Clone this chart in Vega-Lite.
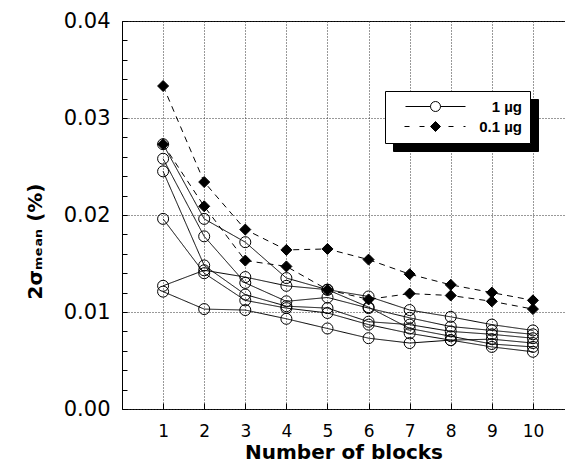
{
  "$schema": "https://vega.github.io/schema/vega-lite/v6.json",
  "width": 443,
  "height": 388,
  "autosize": "none",
  "padding": {"left": 122, "top": 21, "right": 0, "bottom": 59},
  "config": {
    "font": "DejaVu Sans",
    "view": {"stroke": "black", "strokeWidth": 1},
    "axis": {"labelFont": "DejaVu Sans", "titleFont": "DejaVu Sans", "labelColor": "black", "titleColor": "black", "tickColor": "black", "domain": false, "labelOverlap": false, "gridDash": [1, 2], "gridColor": "#333", "gridWidth": 1}
  },
  "datasets": {
    "main": [
      {"series": "A", "dose": "1 µg", "block": 1, "value": 0.0273}, {"series": "A", "dose": "1 µg", "block": 2, "value": 0.0196}, {"series": "A", "dose": "1 µg", "block": 3, "value": 0.0172}, {"series": "A", "dose": "1 µg", "block": 4, "value": 0.0135}, {"series": "A", "dose": "1 µg", "block": 5, "value": 0.0123}, {"series": "A", "dose": "1 µg", "block": 6, "value": 0.0116}, {"series": "A", "dose": "1 µg", "block": 7, "value": 0.0102}, {"series": "A", "dose": "1 µg", "block": 8, "value": 0.0095}, {"series": "A", "dose": "1 µg", "block": 9, "value": 0.0087}, {"series": "A", "dose": "1 µg", "block": 10, "value": 0.0081},
      {"series": "B", "dose": "1 µg", "block": 1, "value": 0.0258}, {"series": "B", "dose": "1 µg", "block": 2, "value": 0.0178}, {"series": "B", "dose": "1 µg", "block": 3, "value": 0.0130}, {"series": "B", "dose": "1 µg", "block": 4, "value": 0.0111}, {"series": "B", "dose": "1 µg", "block": 5, "value": 0.0115}, {"series": "B", "dose": "1 µg", "block": 6, "value": 0.0104}, {"series": "B", "dose": "1 µg", "block": 7, "value": 0.0094}, {"series": "B", "dose": "1 µg", "block": 8, "value": 0.0085}, {"series": "B", "dose": "1 µg", "block": 9, "value": 0.0081}, {"series": "B", "dose": "1 µg", "block": 10, "value": 0.0077},
      {"series": "C", "dose": "1 µg", "block": 1, "value": 0.0245}, {"series": "C", "dose": "1 µg", "block": 2, "value": 0.0148}, {"series": "C", "dose": "1 µg", "block": 3, "value": 0.0118}, {"series": "C", "dose": "1 µg", "block": 4, "value": 0.0106}, {"series": "C", "dose": "1 µg", "block": 5, "value": 0.0104}, {"series": "C", "dose": "1 µg", "block": 6, "value": 0.0090}, {"series": "C", "dose": "1 µg", "block": 7, "value": 0.0087}, {"series": "C", "dose": "1 µg", "block": 8, "value": 0.0080}, {"series": "C", "dose": "1 µg", "block": 9, "value": 0.0077}, {"series": "C", "dose": "1 µg", "block": 10, "value": 0.0073},
      {"series": "D", "dose": "1 µg", "block": 1, "value": 0.0196}, {"series": "D", "dose": "1 µg", "block": 2, "value": 0.0140}, {"series": "D", "dose": "1 µg", "block": 3, "value": 0.0112}, {"series": "D", "dose": "1 µg", "block": 4, "value": 0.0104}, {"series": "D", "dose": "1 µg", "block": 5, "value": 0.0099}, {"series": "D", "dose": "1 µg", "block": 6, "value": 0.0087}, {"series": "D", "dose": "1 µg", "block": 7, "value": 0.0078}, {"series": "D", "dose": "1 µg", "block": 8, "value": 0.0071}, {"series": "D", "dose": "1 µg", "block": 9, "value": 0.0072}, {"series": "D", "dose": "1 µg", "block": 10, "value": 0.0068},
      {"series": "E", "dose": "1 µg", "block": 1, "value": 0.0127}, {"series": "E", "dose": "1 µg", "block": 2, "value": 0.0143}, {"series": "E", "dose": "1 µg", "block": 3, "value": 0.0136}, {"series": "E", "dose": "1 µg", "block": 4, "value": 0.0127}, {"series": "E", "dose": "1 µg", "block": 5, "value": 0.0123}, {"series": "E", "dose": "1 µg", "block": 6, "value": 0.0105}, {"series": "E", "dose": "1 µg", "block": 7, "value": 0.0083}, {"series": "E", "dose": "1 µg", "block": 8, "value": 0.0075}, {"series": "E", "dose": "1 µg", "block": 9, "value": 0.0067}, {"series": "E", "dose": "1 µg", "block": 10, "value": 0.0064},
      {"series": "F", "dose": "1 µg", "block": 1, "value": 0.0121}, {"series": "F", "dose": "1 µg", "block": 2, "value": 0.0103}, {"series": "F", "dose": "1 µg", "block": 3, "value": 0.0102}, {"series": "F", "dose": "1 µg", "block": 4, "value": 0.0093}, {"series": "F", "dose": "1 µg", "block": 5, "value": 0.0083}, {"series": "F", "dose": "1 µg", "block": 6, "value": 0.0073}, {"series": "F", "dose": "1 µg", "block": 7, "value": 0.0068}, {"series": "F", "dose": "1 µg", "block": 8, "value": 0.0071}, {"series": "F", "dose": "1 µg", "block": 9, "value": 0.0064}, {"series": "F", "dose": "1 µg", "block": 10, "value": 0.0059},
      {"series": "G", "dose": "0.1 µg", "block": 1, "value": 0.0333}, {"series": "G", "dose": "0.1 µg", "block": 2, "value": 0.0234}, {"series": "G", "dose": "0.1 µg", "block": 3, "value": 0.0185}, {"series": "G", "dose": "0.1 µg", "block": 4, "value": 0.0164}, {"series": "G", "dose": "0.1 µg", "block": 5, "value": 0.0165}, {"series": "G", "dose": "0.1 µg", "block": 6, "value": 0.0154}, {"series": "G", "dose": "0.1 µg", "block": 7, "value": 0.0139}, {"series": "G", "dose": "0.1 µg", "block": 8, "value": 0.0128}, {"series": "G", "dose": "0.1 µg", "block": 9, "value": 0.0120}, {"series": "G", "dose": "0.1 µg", "block": 10, "value": 0.0112},
      {"series": "H", "dose": "0.1 µg", "block": 1, "value": 0.0273}, {"series": "H", "dose": "0.1 µg", "block": 2, "value": 0.0209}, {"series": "H", "dose": "0.1 µg", "block": 3, "value": 0.0153}, {"series": "H", "dose": "0.1 µg", "block": 4, "value": 0.0147}, {"series": "H", "dose": "0.1 µg", "block": 5, "value": 0.0123}, {"series": "H", "dose": "0.1 µg", "block": 6, "value": 0.0113}, {"series": "H", "dose": "0.1 µg", "block": 7, "value": 0.0119}, {"series": "H", "dose": "0.1 µg", "block": 8, "value": 0.0117}, {"series": "H", "dose": "0.1 µg", "block": 9, "value": 0.0111}, {"series": "H", "dose": "0.1 µg", "block": 10, "value": 0.0103}
    ]
  },
  "layer": [
    {
      "data": {"name": "main"},
      "mark": {"type": "line", "color": "black", "strokeWidth": 1},
      "encoding": {
        "x": {"field": "block", "type": "quantitative", "scale": {"domain": [0, 10.78], "nice": false, "zero": false},
          "axis": {"values": [1, 2, 3, 4, 5, 6, 7, 8, 9, 10], "grid": true, "title": "Number of blocks", "titleFontSize": 20, "titleFontWeight": "bold", "labelFontSize": 17, "tickSize": -6, "labelPadding": 20, "titlePadding": 3}},
        "y": {"field": "value", "type": "quantitative", "scale": {"domain": [0, 0.04], "nice": false},
          "axis": {"values": [0, 0.01, 0.02, 0.03, 0.04], "format": ".2f", "grid": true, "labelFontSize": 21, "tickSize": -5, "labelPadding": 17,
            "title": "2σₘₑₐₙ (%)", "titleFontSize": 20, "titleFontWeight": "bold", "titleX": -77, "titleY": 220}},
        "detail": {"field": "series", "type": "nominal"},
        "strokeDash": {"field": "dose", "type": "nominal", "scale": {"domain": ["1 µg", "0.1 µg"], "range": [[1, 0], [6, 5]]}, "legend": null}
      }
    },
    {
      "data": {"name": "main"},
      "mark": {"type": "point", "stroke": "black", "strokeWidth": 1, "size": 121, "opacity": 1},
      "encoding": {
        "x": {"field": "block", "type": "quantitative"},
        "y": {"field": "value", "type": "quantitative",
          "axis": {"orient": "left", "values": [0, 0.002, 0.004, 0.006, 0.008, 0.01, 0.012, 0.014, 0.016, 0.018, 0.02, 0.022, 0.024, 0.026, 0.028, 0.03, 0.032, 0.034, 0.036, 0.038, 0.04], "labels": false, "grid": false, "title": null, "tickSize": -5}},
        "shape": {"field": "dose", "type": "nominal", "scale": {"domain": ["1 µg", "0.1 µg"], "range": ["circle", "diamond"]}, "legend": null},
        "fill": {"field": "dose", "type": "nominal", "scale": {"domain": ["1 µg", "0.1 µg"], "range": ["transparent", "black"]}, "legend": null}
      }
    },
    {
      "data": {"values": []},
      "mark": {"type": "point", "strokeWidth": 1, "opacity": 1},
      "encoding": {
        "shape": {"field": "dose", "type": "nominal", "scale": {"domain": ["1 µg", "0.1 µg"], "range": ["M-6,0H-1M1,0H6M1,0A1,1,0,1,1,-1,0A1,1,0,1,1,1,0Z", "M-6.2,0H-5.2M-3.2,0H-2.2M0,-1L1,0L0,1L-1,0ZM2.6,0H3.6M5.6,0H6"]},
          "legend": {"orient": "none", "legendX": 263, "legendY": 70, "title": null, "padding": 8, "symbolSize": 100, "symbolOffset": 35, "labelOffset": 79, "labelAlign": "right", "labelFont": "Liberation Sans", "labelFontSize": 15, "labelFontWeight": "bold", "labelColor": "black", "rowPadding": 4, "fillColor": "white", "strokeColor": "black", "symbolStrokeWidth": 1, "symbolStrokeColor": "black", "zindex": 2}},
        "fill": {"field": "dose", "type": "nominal", "scale": {"domain": ["1 µg", "0.1 µg"], "range": ["white", "black"]},
          "legend": {"orient": "none", "legendX": 263, "legendY": 70, "title": null, "padding": 8, "symbolSize": 100, "symbolOffset": 35, "labelOffset": 79, "labelAlign": "right", "labelFont": "Liberation Sans", "labelFontSize": 15, "labelFontWeight": "bold", "labelColor": "black", "rowPadding": 4, "fillColor": "white", "strokeColor": "black", "symbolStrokeWidth": 1, "symbolStrokeColor": "black", "zindex": 2}},
        "stroke": {"field": "dose", "type": "nominal", "scale": {"domain": ["1 µg", "0.1 µg"], "range": ["black", "black"]},
          "legend": {"orient": "none", "legendX": 263, "legendY": 70, "title": null, "padding": 8, "symbolSize": 100, "symbolOffset": 35, "labelOffset": 79, "labelAlign": "right", "labelFont": "Liberation Sans", "labelFontSize": 15, "labelFontWeight": "bold", "labelColor": "black", "rowPadding": 4, "fillColor": "white", "strokeColor": "black", "symbolStrokeWidth": 1, "symbolStrokeColor": "black", "zindex": 2}}
      }
    },
    {
      "data": {"values": []},
      "mark": {"type": "point", "stroke": "black", "fill": "black", "strokeWidth": 1, "opacity": 1},
      "encoding": {
        "shape": {"field": "dose", "type": "nominal", "scale": {"domain": ["1 µg", "0.1 µg"], "range": ["M-6,0H-1M1,0H6M1,0A1,1,0,1,1,-1,0A1,1,0,1,1,1,0Z", "M-6.2,0H-5.2M-3.2,0H-2.2M0,-1L1,0L0,1L-1,0ZM2.6,0H3.6M5.6,0H6"]},
          "legend": {"orient": "none", "legendX": 271, "legendY": 78, "title": null, "padding": 8, "symbolSize": 100, "symbolOffset": 89, "labelOffset": -92, "labelAlign": "left", "labelFont": "Liberation Sans", "labelFontSize": 15, "labelFontWeight": "bold", "labelColor": "black", "labelOpacity": 0, "rowPadding": 4, "fillColor": "black", "strokeColor": "black", "symbolStrokeWidth": 1, "symbolStrokeColor": "black", "symbolFillColor": "black", "zindex": 1}}
      }
    }
  ],
  "resolve": {"scale": {"shape": "independent", "fill": "independent", "stroke": "independent"}, "axis": {"y": "independent"}}
}
